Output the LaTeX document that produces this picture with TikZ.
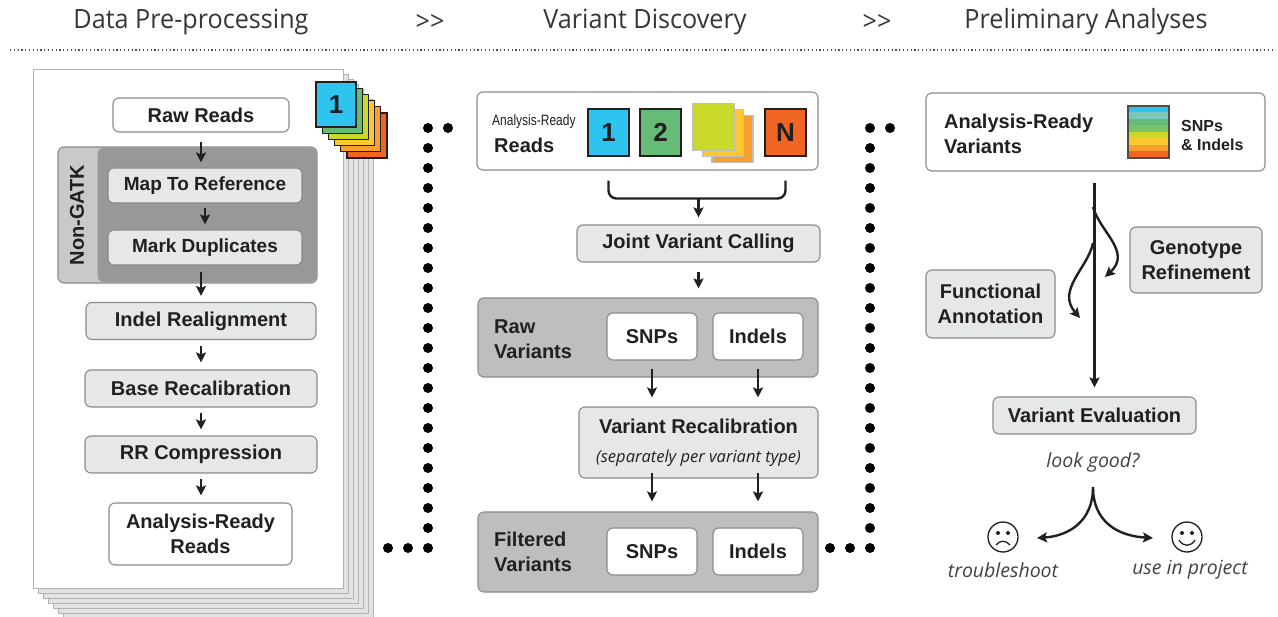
\documentclass[tikz,border=0pt]{standalone}
\usepackage{fontspec}
\setmainfont{Liberation Sans}
\newfontfamily\headfont[FakeStretch=0.95]{Open Sans}
\newfontfamily\smallfont[FakeStretch=0.8]{Liberation Sans}
\newfontfamily\notefont{Open Sans}
\usetikzlibrary{arrows.meta, calc}

\definecolor{ink}{HTML}{231F20}
\definecolor{edge}{HTML}{8A8A8A}
\definecolor{boxgray}{HTML}{E6E7E8}
\definecolor{panelgray}{HTML}{BEBEBE}
\definecolor{ngouter}{HTML}{C9C9C9}
\definecolor{nginner}{HTML}{989898}
\definecolor{sqblue}{HTML}{2EC4F0}
\definecolor{sqgreen}{HTML}{66BB77}
\definecolor{sqlime}{HTML}{C8D92A}
\definecolor{sqyellow}{HTML}{FDC82F}
\definecolor{sqorange}{HTML}{F7A030}
\definecolor{sqred}{HTML}{F06522}
\definecolor{sqteal}{HTML}{7CC8B8}

\tikzset{
  box/.style={draw=edge, fill=boxgray, rounded corners=6pt, line width=1.1pt, text=ink,
    font=\bfseries\fontsize{20}{25}\selectfont, align=center, inner sep=0pt},
  whitebox/.style={box, fill=white},
  panel/.style={box, fill=panelgray},
  tile/.style={draw=ink, line width=1.1pt, minimum width=41pt, minimum height=47pt, inner sep=0pt,
    text=ink, font=\bfseries\fontsize{26}{26}\selectfont},
  arr/.style={->, line width=2.4pt, draw=ink},
  dotline/.style={line width=10pt, line cap=round, dash pattern=on 0pt off 20pt, draw=black},
  note/.style={font=\notefont\itshape\fontsize{19.5}{23}\selectfont, text=ink!85},
  head/.style={font=\headfont\fontsize{26.5}{30}\selectfont, text=ink!90},
  label/.style={text=ink, font=\bfseries\fontsize{20}{25}\selectfont, align=left, inner sep=0pt},
}

\begin{document}
\begin{tikzpicture}
        [x=1pt, y=-1pt, >={Stealth[length=10pt, width=10pt, inset=2pt]}]

        \useasboundingbox (0,0) rectangle (1278,617);

        % headings
        \node[head] (h1) at (191,22) {Data Pre-processing};
        \node[head] (h2) at (430,22) {>>};
        \node[head] (h3) at (645,22) {Variant Discovery};
        \node[head] (h4) at (877,22) {>>};
        \node[head] (h5) at (1086,22) {Preliminary Analyses};
        \draw[ink!80, line width=1.2pt, dash pattern=on 1.2pt off 2.6pt] (10,50) -- (1275,50);

        % data pre-processing
        \foreach \k in {6,...,1}
        \draw[draw=gray!60, fill=gray!22, line width=1pt] (33+5*\k, 70+5*\k) rectangle ++(310,518);
        \draw[draw=gray!60, fill=white, line width=1pt] (33,70) rectangle ++(310,518);

        \foreach \c [count=\i] in {sqred, sqorange, sqyellow, sqlime, sqgreen}
        \node[tile, fill=\c, minimum width=40pt, minimum height=45pt] (lsq-\i) at ({336+6.2*(6-\i)}, {104.5+6.2*(6-\i)}) {};
        \node[tile, fill=sqblue, minimum width=40pt, minimum height=45pt] (lsq-6) at (336,104.5) {1};

        \node[whitebox, minimum width=176pt, minimum height=34pt] (raw) at (201,115) {Raw Reads};

        \node[box, draw=edge, fill=ngouter, minimum width=259pt, minimum height=136pt] (ngo) at (187.5,215) {};
        \node[box, draw=none, fill=nginner, minimum width=219pt, minimum height=134pt] (ngi) at (207,215) {};
        \node[label, rotate=90] (ngl) at (77,215) {Non-GATK};

        \node[box, minimum width=194pt, minimum height=35pt, font=\bfseries\fontsize{19}{24}\selectfont] (map) at (205,185.5) {Map To Reference};
        \node[box, minimum width=194pt, minimum height=35pt, font=\bfseries\fontsize{19}{24}\selectfont] (dup) at (205,247.5) {Mark Duplicates};
        \node[box, minimum width=230pt, minimum height=37pt] (indel) at (201,321) {Indel Realignment};
        \node[box, minimum width=232pt, minimum height=37pt] (bqsr) at (201,388.5) {Base Recalibration};
        \node[box, minimum width=232pt, minimum height=37pt] (rr) at (201,454.5) {RR Compression};
        \node[whitebox, minimum width=183pt, minimum height=62pt] (ready) at (200.5,534) {Analysis-Ready\\Reads};

        \draw[arr, shorten <=9pt, shorten >=5pt] (raw) -- (raw |- map.north);
        \draw[arr, shorten <=4pt, shorten >=5pt] (map) -- (dup);
        \draw[arr, shorten <=6pt, shorten >=6pt] (dup.south -| raw.south) -- (indel);
        \draw[arr, shorten <=6pt, shorten >=7pt] (indel) -- (bqsr);
        \draw[arr, shorten <=5pt, shorten >=6pt] (bqsr) -- (rr);
        \draw[arr, shorten <=5pt, shorten >=7pt] (rr) -- (rr |- ready.north);

        % links between stages
        \coordinate (d1s) at (388,548);
        \coordinate (d1e) at (468,128);
        \draw[dotline] (d1s) -- (428,548) -- (428,128) -- (d1e);
        \coordinate (d2s) at (830,548);
        \coordinate (d2e) at (910,128);
        \draw[dotline] (d2s) -- (870,548) -- (870,128) -- (d2e);

        % variant discovery
        \node[whitebox, minimum width=341pt, minimum height=78pt] (ar) at (647.5,131) {};
        \node[label, anchor=west, font=\smallfont\fontsize{15}{16}\selectfont] (arsmall) at (492,122) {Analysis-Ready};
        \node[label, anchor=west] (arreads) at (494,145) {Reads};
        \node[tile, fill=sqblue] (sq-1) at (608.5,132.5) {1};
        \node[tile, fill=sqgreen] (sq-2) at (660.5,132.5) {2};
        \node[tile, draw=gray!50, fill=sqorange] (sq-5) at (732.5,139) {};
        \node[tile, draw=gray!50, fill=sqyellow] (sq-4) at (723,133) {};
        \node[tile, draw=gray!50, fill=sqlime] (sq-3) at (713.5,127) {};
        \node[tile, fill=sqred] (sq-n) at (785.5,132.5) {N};

        \node[box, minimum width=243pt, minimum height=37pt] (jvc) at (698.5,243.5) {Joint Variant Calling};
        \draw[line width=2.4pt, draw=ink, rounded corners=8pt]
          ($(sq-1.south)+(0,24)$) -- ++(0,18) -| ($(sq-n.south)+(0,24)$);
        \coordinate (bmid) at (jvc.north |- 0,198);
        \draw[arr, shorten >=7pt] (bmid) -- (jvc.north);

        \node[panel, minimum width=340pt, minimum height=79pt] (rawv) at (648,337.5) {};
        \node[label, anchor=west] (rawvl) at (494,339) {Raw\\Variants};
        \node[whitebox, minimum width=90pt, minimum height=47pt] (snp1) at (652,336.5) {SNPs};
        \node[whitebox, minimum width=90pt, minimum height=47pt] (ind1) at (758,336.5) {Indels};
        \draw[arr, shorten <=9pt, shorten >=9pt] (jvc) -- (jvc |- rawv.north);

        \node[box, minimum width=239pt, minimum height=71pt] (vqsr) at (698.5,442.5)
          {Variant Recalibration\\[4pt]{\notefont\itshape\mdseries\fontsize{16.5}{19}\selectfont (separately per variant type)}};
        \draw[arr, shorten <=8pt, shorten >=9pt] (snp1) -- (snp1 |- vqsr.north);
        \draw[arr, shorten <=8pt, shorten >=9pt] (ind1) -- (ind1 |- vqsr.north);

        \node[panel, minimum width=340pt, minimum height=80pt] (filt) at (648,552) {};
        \node[label, anchor=west] (filtl) at (494,552) {Filtered\\Variants};
        \node[whitebox, minimum width=90pt, minimum height=47pt] (snp2) at (652,551.5) {SNPs};
        \node[whitebox, minimum width=90pt, minimum height=47pt] (ind2) at (758,551.5) {Indels};
        \draw[arr, shorten <=-6pt, shorten >=10pt] (snp1 |- vqsr.south) -- (snp1 |- filt.north);
        \draw[arr, shorten <=-6pt, shorten >=10pt] (ind1 |- vqsr.south) -- (ind1 |- filt.north);

        % preliminary analyses
        \node[whitebox, minimum width=339pt, minimum height=78pt] (arv) at (1095.5,132) {};
        \node[label, anchor=west] (arvl) at (944,134) {Analysis-Ready\\Variants};
        \foreach \c [count=\i] in {sqblue, sqteal, sqgreen, sqgreen!80!sqlime, sqlime, sqyellow, sqorange, sqred}
        \fill[\c] (1128, 106+6.5*\i-6.5) rectangle ++(41,6.5);
        \node[draw=ink!80, line width=1.1pt, minimum width=41pt, minimum height=52pt, inner sep=0pt] (grad) at (1148.5,132) {};
        \node[label, anchor=west, font=\bfseries\fontsize{16}{19}\selectfont] (grdl) at (1181,135) {SNPs\\\& Indels};

        \node[box, minimum width=132pt, minimum height=66pt] (geno) at (1196,260) {Genotype\\Refinement};
        \node[box, minimum width=129pt, minimum height=68pt] (func) at (990.5,304) {Functional\\Annotation};
        \node[box, minimum width=203pt, minimum height=37pt] (ve) at (1094.5,415.5) {Variant Evaluation};

        \draw[arr, shorten <=11pt, shorten >=9pt] (ve.north |- arv.south) -- (ve.north);
        \coordinate (g1) at (1093,207);
        \coordinate (g2) at (1105,277);
        \draw[arr] (g1) .. controls (1100,232) and (1132,252) .. (g2);
        \coordinate (f1) at (1093,243);
        \coordinate (f2) at (1080,318);
        \draw[arr] (f1) .. controls (1088,268) and (1056,290) .. (f2);

        \node[note] (good) at (1093,462) {look good?};
        \coordinate (fork) at (1093,487);
        \coordinate (lt) at (1037,538);
        \coordinate (rt) at (1153,538);
        \draw[arr] (fork) .. controls (1093,522) and (1068,536) .. (lt);
        \draw[arr] (fork) .. controls (1093,522) and (1118,536) .. (rt);

        \node[circle, draw=ink, line width=1.3pt, minimum size=30pt, inner sep=0pt] (sad) at (1003,537) {};
        \fill[ink] ($(sad)+(-5,-4)$) circle (2pt) ($(sad)+(5,-4)$) circle (2pt);
        \draw[ink, line width=1.3pt] ($(sad)+(-7,8)$) .. controls ($(sad)+(-3,3)$) and ($(sad)+(3,3)$) .. ($(sad)+(7,8)$);
        \node[circle, draw=ink, line width=1.3pt, minimum size=30pt, inner sep=0pt] (happy) at (1187,537) {};
        \fill[ink] ($(happy)+(-5,-4)$) circle (2pt) ($(happy)+(5,-4)$) circle (2pt);
        \draw[ink, line width=1.3pt] ($(happy)+(-8,3)$) .. controls ($(happy)+(-4,10)$) and ($(happy)+(4,10)$) .. ($(happy)+(8,3)$);

        \node[note] (trbl) at (1003,570) {troubleshoot};
        \node[note] (use) at (1190,570) {use in project};

    \end{tikzpicture}
\end{document}
